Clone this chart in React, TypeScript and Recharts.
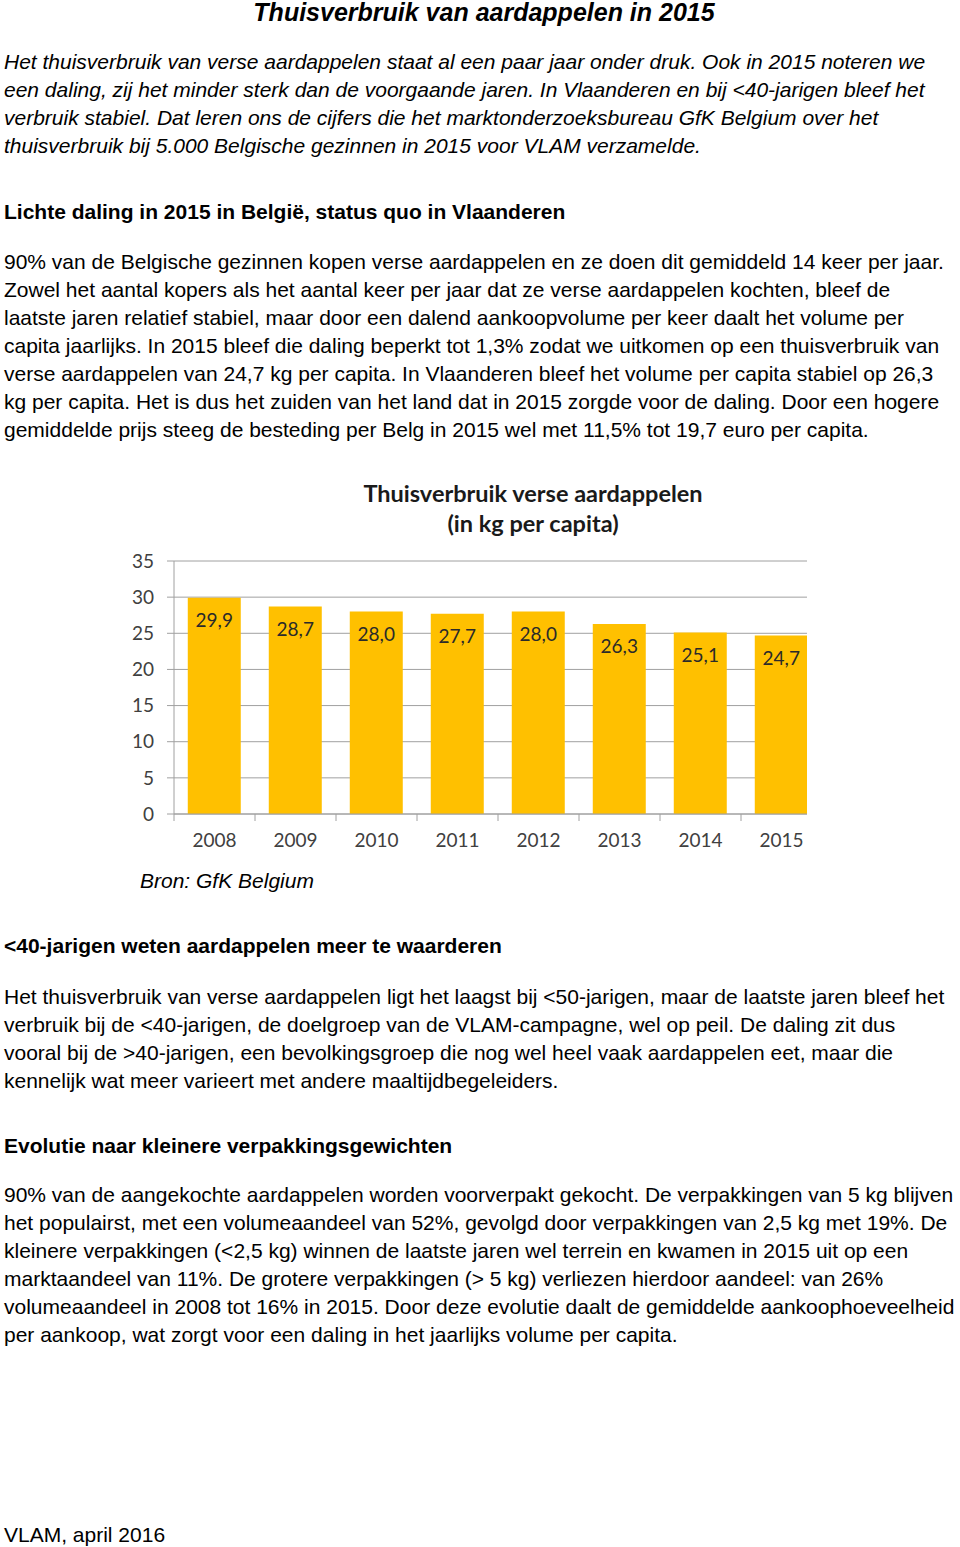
import { BarChart, Bar, XAxis, YAxis, CartesianGrid, LabelList } from 'recharts'

const years = ['2008', '2009', '2010', '2011', '2012', '2013', '2014', '2015']
const kgPerCapita = [29.9, 28.7, 28.0, 27.7, 28.0, 26.3, 25.1, 24.7]
const yTicks = [0, 5, 10, 15, 20, 25, 30, 35]

const data = years.map((year, i) => ({ year, kg: kgPerCapita[i] }))

const intro = [
  'Het thuisverbruik van verse aardappelen staat al een paar jaar onder druk. Ook in 2015 noteren we',
  'een daling, zij het minder sterk dan de voorgaande jaren. In Vlaanderen en bij <40-jarigen bleef het',
  'verbruik stabiel. Dat leren ons de cijfers die het marktonderzoeksbureau GfK Belgium over het',
  'thuisverbruik bij 5.000 Belgische gezinnen in 2015 voor VLAM verzamelde.',
]
const para1 = [
  '90% van de Belgische gezinnen kopen verse aardappelen en ze doen dit gemiddeld 14 keer per jaar.',
  'Zowel het aantal kopers als het aantal keer per jaar dat ze verse aardappelen kochten, bleef de',
  'laatste jaren relatief stabiel, maar door een dalend aankoopvolume per keer daalt het volume per',
  'capita jaarlijks. In 2015 bleef die daling beperkt tot 1,3% zodat we uitkomen op een thuisverbruik van',
  'verse aardappelen van 24,7 kg per capita. In Vlaanderen bleef het volume per capita stabiel op 26,3',
  'kg per capita. Het is dus het zuiden van het land dat in 2015 zorgde voor de daling. Door een hogere',
  'gemiddelde prijs steeg de besteding per Belg in 2015 wel met 11,5% tot 19,7 euro per capita.',
]
const para2 = [
  'Het thuisverbruik van verse aardappelen ligt het laagst bij <50-jarigen, maar de laatste jaren bleef het',
  'verbruik bij de <40-jarigen, de doelgroep van de VLAM-campagne, wel op peil. De daling zit dus',
  'vooral bij de >40-jarigen, een bevolkingsgroep die nog wel heel vaak aardappelen eet, maar die',
  'kennelijk wat meer varieert met andere maaltijdbegeleiders.',
]
const para3 = [
  '90% van de aangekochte aardappelen worden voorverpakt gekocht. De verpakkingen van 5 kg blijven',
  'het populairst, met een volumeaandeel van 52%, gevolgd door verpakkingen van 2,5 kg met 19%. De',
  'kleinere verpakkingen (<2,5 kg) winnen de laatste jaren wel terrein en kwamen in 2015 uit op een',
  'marktaandeel van 11%. De grotere verpakkingen (> 5 kg) verliezen hierdoor aandeel: van 26%',
  'volumeaandeel in 2008 tot 16% in 2015. Door deze evolutie daalt de gemiddelde aankoophoeveelheid',
  'per aankoop, wat zorgt voor een daling in het jaarlijks volume per capita.',
]

const FONT = '"Liberation Sans", Arial, sans-serif'
const CHART_FONT = 'Lato, "Open Sans", sans-serif'
const LH = 28
const FS = 21
const plotW = 648
const band = plotW / years.length

function Lines({ lines, top, italic }: { lines: string[]; top: number; italic?: boolean }) {
  return (
    <>
      {lines.map((t, i) => (
        <div key={i} style={{ position: 'absolute', left: 4, top: top - LH / 2 + i * LH, height: LH, lineHeight: `${LH}px`,
          fontSize: FS, fontStyle: italic ? 'italic' : 'normal', whiteSpace: 'pre', color: '#000' }}>{t}</div>
      ))}
    </>
  )
}

function Heading({ text, top }: { text: string; top: number }) {
  return (
    <div style={{ position: 'absolute', left: 4, top: top - LH / 2, lineHeight: `${LH}px`, fontSize: FS,
      fontWeight: 'bold', whiteSpace: 'pre' }}>{text}</div>
  )
}

function YearTick({ x, y, payload }: any) {
  return (
    <g>
      <line x1={x - band / 2} y1={y - 8} x2={x - band / 2} y2={y - 1} stroke="#a0a0a0" />
      <text x={x} y={y + 25} textAnchor="middle" fontSize={19} fill="#404040" fontFamily={CHART_FONT}>{payload.value}</text>
    </g>
  )
}

export default function App() {
  return (
    <div style={{ position: 'absolute', left: 0, top: 0, width: 960, height: 1547, background: '#fff', fontFamily: FONT }}>
      <div style={{ position: 'absolute', left: 0, width: 968, top: -1, textAlign: 'center', fontSize: 25,
        fontWeight: 'bold', fontStyle: 'italic', lineHeight: '26px' }}>Thuisverbruik van aardappelen in 2015</div>
      <Lines lines={intro} top={62} italic />
      <Heading text="Lichte daling in 2015 in België, status quo in Vlaanderen" top={212} />
      <Lines lines={para1} top={262} />

      <div style={{ position: 'absolute', left: 283, width: 500, top: 478, textAlign: 'center', fontFamily: CHART_FONT,
        fontWeight: 'bold', fontSize: 23.5, lineHeight: '30px', color: '#1a1a1a' }}>
        Thuisverbruik verse aardappelen<br />(in kg per capita)
      </div>
      <div style={{ position: 'absolute', left: 100, top: 540, width: 707, height: 324, overflow: 'hidden' }}>
        <BarChart width={722} height={324} data={data} margin={{ top: 21, right: 0, bottom: 0, left: 0 }}
          barCategoryGap="17%">
          <CartesianGrid vertical={false} stroke="#a0a0a0" />
          <XAxis dataKey="year" axisLine={{ stroke: '#a0a0a0' }} tickLine={false} height={50}
            tick={<YearTick />} interval={0} />
          <YAxis domain={[0, 35]} ticks={yTicks} width={74} axisLine={{ stroke: '#a0a0a0' }}
            tickLine={{ stroke: '#a0a0a0' }} tickSize={7} tickMargin={13}
            tick={{ fontSize: 19, fill: '#404040', fontFamily: CHART_FONT }} />
          <Bar dataKey="kg" fill="#FFC000" isAnimationActive={false}>
            <LabelList dataKey="kg" position="insideTop" offset={16} fontSize={19} fill="#2a2a2a"
              fontFamily={CHART_FONT} formatter={(v: any) => Number(v).toFixed(1).replace('.', ',')} />
          </Bar>
        </BarChart>
      </div>
      <div style={{ position: 'absolute', left: 140, top: 881 - LH / 2, lineHeight: `${LH}px`, fontSize: FS,
        fontStyle: 'italic' }}>Bron: GfK Belgium</div>

      <Heading text="<40-jarigen weten aardappelen meer te waarderen" top={946} />
      <Lines lines={para2} top={997} />
      <Heading text="Evolutie naar kleinere verpakkingsgewichten" top={1146} />
      <Lines lines={para3} top={1195} />
      <div style={{ position: 'absolute', left: 4, top: 1535 - LH / 2, lineHeight: `${LH}px`, fontSize: FS }}>VLAM, april 2016</div>
    </div>
  )
}
